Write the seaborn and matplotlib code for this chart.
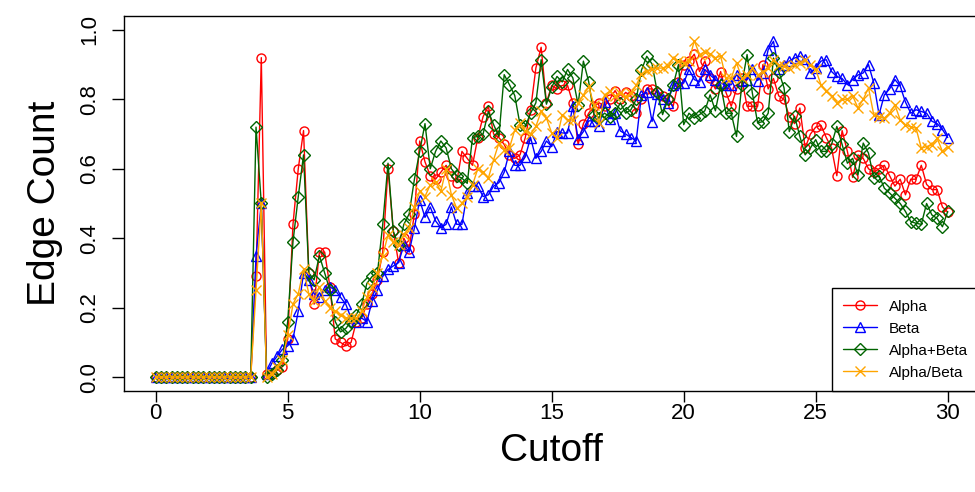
import numpy as np
import pandas as pd
import matplotlib
matplotlib.use("Agg")
import matplotlib.pyplot as plt
import seaborn as sns

# cutoff grid (step 0.2 from 0 to 30)
cutoff = np.round(np.arange(0, 30.01, 0.2), 1)

# one row per unit of cutoff (x.0, x.2, x.4, x.6, x.8)
alpha = [
    0, 0, 0, 0, 0,
    0, 0, 0, 0, 0,
    0, 0, 0, 0, 0,
    0, 0, 0, 0, 0.29,
    0.92, 0.01, 0.01, 0.02, 0.03,
    0.11, 0.44, 0.60, 0.71, 0.30,
    0.21, 0.36, 0.36, 0.26, 0.11,
    0.10, 0.09, 0.10, 0.16, 0.17,
    0.21, 0.24, 0.28, 0.36, 0.60,
    0.42, 0.33, 0.40, 0.37, 0.47,
    0.68, 0.62, 0.58, 0.57, 0.59,
    0.61, 0.58, 0.56, 0.65, 0.63,
    0.61, 0.69, 0.75, 0.78, 0.70,
    0.69, 0.67, 0.64, 0.63, 0.64,
    0.69, 0.77, 0.89, 0.95, 0.79,
    0.84, 0.83, 0.84, 0.84, 0.79,
    0.67, 0.73, 0.76, 0.78, 0.79,
    0.78, 0.80, 0.825, 0.80, 0.82,
    0.81, 0.76, 0.80, 0.83, 0.83,
    0.82, 0.81, 0.80, 0.78, 0.85,
    0.90, 0.91, 0.93, 0.88, 0.91,
    0.86, 0.83, 0.88, 0.82, 0.78,
    0.83, 0.86, 0.78, 0.78, 0.78,
    0.90, 0.83, 0.86, 0.81, 0.80,
    0.75, 0.73, 0.775, 0.66, 0.70,
    0.72, 0.725, 0.69, 0.66, 0.58,
    0.71, 0.65, 0.575, 0.64, 0.63,
    0.60, 0.59, 0.60, 0.61, 0.58,
    0.55, 0.57, 0.525, 0.57, 0.57,
    0.61, 0.555, 0.54, 0.54, 0.49,
    0.475,
]

beta = [
    0, 0, 0, 0, 0,
    0, 0, 0, 0, 0,
    0, 0, 0, 0, 0,
    0, 0, 0, 0, 0.35,
    0.50, 0.01, 0.04, 0.06, 0.08,
    0.09, 0.11, 0.19, 0.30, 0.28,
    0.24, 0.23, 0.25, 0.26, 0.25,
    0.23, 0.21, 0.17, 0.16, 0.17,
    0.16, 0.22, 0.25, 0.29, 0.31,
    0.32, 0.33, 0.38, 0.36, 0.43,
    0.51, 0.46, 0.49, 0.45, 0.43,
    0.44, 0.49, 0.44, 0.44, 0.53,
    0.55, 0.55, 0.52, 0.525, 0.55,
    0.56, 0.59, 0.65, 0.61, 0.61,
    0.635, 0.69, 0.63, 0.65, 0.68,
    0.664, 0.707, 0.703, 0.703, 0.78,
    0.686, 0.707, 0.738, 0.738, 0.722,
    0.792, 0.744, 0.76, 0.709, 0.70,
    0.69, 0.68, 0.813, 0.82, 0.736,
    0.815, 0.80, 0.79, 0.842, 0.847,
    0.847, 0.886, 0.857, 0.85, 0.886,
    0.87, 0.857, 0.847, 0.84, 0.842,
    0.871, 0.854, 0.857, 0.886, 0.854,
    0.876, 0.943, 0.967, 0.886, 0.90,
    0.91, 0.919, 0.924, 0.917, 0.876,
    0.89, 0.91, 0.914, 0.88, 0.866,
    0.86, 0.842, 0.857, 0.87, 0.876,
    0.90, 0.847, 0.756, 0.813, 0.83,
    0.857, 0.838, 0.792, 0.76, 0.77,
    0.765, 0.76, 0.737, 0.73, 0.713,
    0.69,
]

alpha_beta = [
    0, 0, 0, 0, 0,
    0, 0, 0, 0, 0,
    0, 0, 0, 0, 0,
    0, 0, 0, 0, 0.72,
    0.50, 0.0, 0.01, 0.02, 0.05,
    0.16, 0.39, 0.52, 0.64, 0.30,
    0.28, 0.35, 0.30, 0.25, 0.16,
    0.13, 0.14, 0.16, 0.18, 0.21,
    0.27, 0.29, 0.30, 0.44, 0.616,
    0.42, 0.38, 0.44, 0.47, 0.57,
    0.65, 0.73, 0.60, 0.65, 0.68,
    0.66, 0.60, 0.58, 0.573, 0.558,
    0.69, 0.693, 0.70, 0.765, 0.727,
    0.693, 0.871, 0.842, 0.811, 0.727,
    0.722, 0.76, 0.79, 0.914, 0.786,
    0.835, 0.866, 0.85, 0.886, 0.862,
    0.785, 0.91, 0.851, 0.756, 0.746,
    0.76, 0.75, 0.76, 0.79, 0.76,
    0.77, 0.80, 0.884, 0.924, 0.902,
    0.82, 0.756, 0.80, 0.84, 0.90,
    0.727, 0.76, 0.746, 0.756, 0.767,
    0.813, 0.767, 0.842, 0.76, 0.76,
    0.693, 0.842, 0.929, 0.818, 0.732,
    0.736, 0.76, 0.919, 0.88, 0.833,
    0.707, 0.751, 0.693, 0.64, 0.66,
    0.684, 0.65, 0.65, 0.67, 0.722,
    0.67, 0.616, 0.63, 0.582, 0.674,
    0.645, 0.573, 0.58, 0.544, 0.53,
    0.515, 0.50, 0.477, 0.448, 0.443,
    0.44, 0.50, 0.467, 0.457, 0.433,
    0.477,
]

alpha_over_beta = [
    0, 0, 0, 0, 0,
    0, 0, 0, 0, 0,
    0, 0, 0, 0, 0,
    0, 0, 0, 0, 0.25,
    0.50, 0.0, 0.01, 0.03, 0.05,
    0.12, 0.21, 0.24, 0.31, 0.24,
    0.22, 0.26, 0.22, 0.20, 0.19,
    0.18, 0.17, 0.17, 0.17, 0.19,
    0.23, 0.26, 0.30, 0.35, 0.41,
    0.39, 0.38, 0.41, 0.43, 0.49,
    0.535, 0.52, 0.554, 0.563, 0.535,
    0.60, 0.525, 0.486, 0.50, 0.52,
    0.553, 0.60, 0.59, 0.573, 0.626,
    0.674, 0.654, 0.66, 0.712, 0.731,
    0.71, 0.70, 0.722, 0.765, 0.746,
    0.703, 0.688, 0.756, 0.741, 0.74,
    0.789, 0.813, 0.837, 0.784, 0.731,
    0.813, 0.823, 0.81, 0.818, 0.808,
    0.818, 0.84, 0.873, 0.881, 0.886,
    0.89, 0.89, 0.895, 0.919, 0.91,
    0.905, 0.91, 0.969, 0.929, 0.937,
    0.93, 0.92, 0.924, 0.861, 0.861,
    0.905, 0.861, 0.869, 0.89, 0.87,
    0.88, 0.89, 0.914, 0.90, 0.895,
    0.89, 0.90, 0.905, 0.914, 0.90,
    0.886, 0.842, 0.823, 0.81, 0.79,
    0.80, 0.80, 0.81, 0.775, 0.80,
    0.833, 0.755, 0.75, 0.746, 0.76,
    0.784, 0.741, 0.727, 0.72, 0.717,
    0.659, 0.664, 0.669, 0.688, 0.65,
    0.664,
]

labels = ["Alpha", "Beta", "Alpha+Beta", "Alpha/Beta"]
colors = ["red", "blue", "darkgreen", "orange"]
markers = ["o", "^", "D", "x"]
msizes = [6.5, 7.5, 6, 7]

df = pd.DataFrame({"Cutoff": cutoff, "Alpha": alpha, "Beta": beta,
                   "Alpha+Beta": alpha_beta, "Alpha/Beta": alpha_over_beta})

sns.set_style("ticks")
plt.rcParams["font.family"] = ["Liberation Sans", "DejaVu Sans"]
plt.rcParams["text.color"] = "black"
plt.rcParams["axes.labelcolor"] = "black"
plt.rcParams["xtick.color"] = "black"
plt.rcParams["ytick.color"] = "black"

fig = plt.figure(figsize=(9.75, 4.92), dpi=100)
ax = fig.add_axes([0.1272, 0.2053, 0.8773, 0.7622])

for lab, col, mk, ms in zip(labels, colors, markers, msizes):
    sns.lineplot(data=df, x="Cutoff", y=lab, ax=ax, color=col, marker=mk,
                 markersize=ms, markerfacecolor="none", markeredgecolor=col,
                 markeredgewidth=1.0, linewidth=1.0, label=lab)

ax.set_xlim(-1.2, 31.2)
ax.set_ylim(-0.04, 1.04)
ax.set_xticks([0, 5, 10, 15, 20, 25, 30])
ax.set_yticks([0.0, 0.2, 0.4, 0.6, 0.8, 1.0])
ax.set_yticklabels(["0.0", "0.2", "0.4", "0.6", "0.8", "1.0"])
ax.tick_params(direction="out", length=9, width=1, labelsize=16, colors="black")
ax.tick_params(axis="x", length=8, pad=1)
ax.tick_params(axis="y", labelrotation=90, pad=8)
for lbl in ax.get_yticklabels():
    lbl.set_va("center")

ax.set_xlabel("Cutoff", fontsize=28, labelpad=6)
ax.set_ylabel("Edge Count", fontsize=28, labelpad=12)

for s in ax.spines.values():
    s.set_visible(True)
    s.set_color("black")
    s.set_linewidth(1.0)

leg = ax.legend(loc="lower right", fontsize=11, frameon=True, fancybox=False,
                edgecolor="black", framealpha=1, borderaxespad=0,
                handlelength=2.2, handletextpad=0.8, labelspacing=0.52,
                borderpad=0.75)
leg.get_frame().set_linewidth(1.0)

fig.savefig("out.png", dpi=100)
